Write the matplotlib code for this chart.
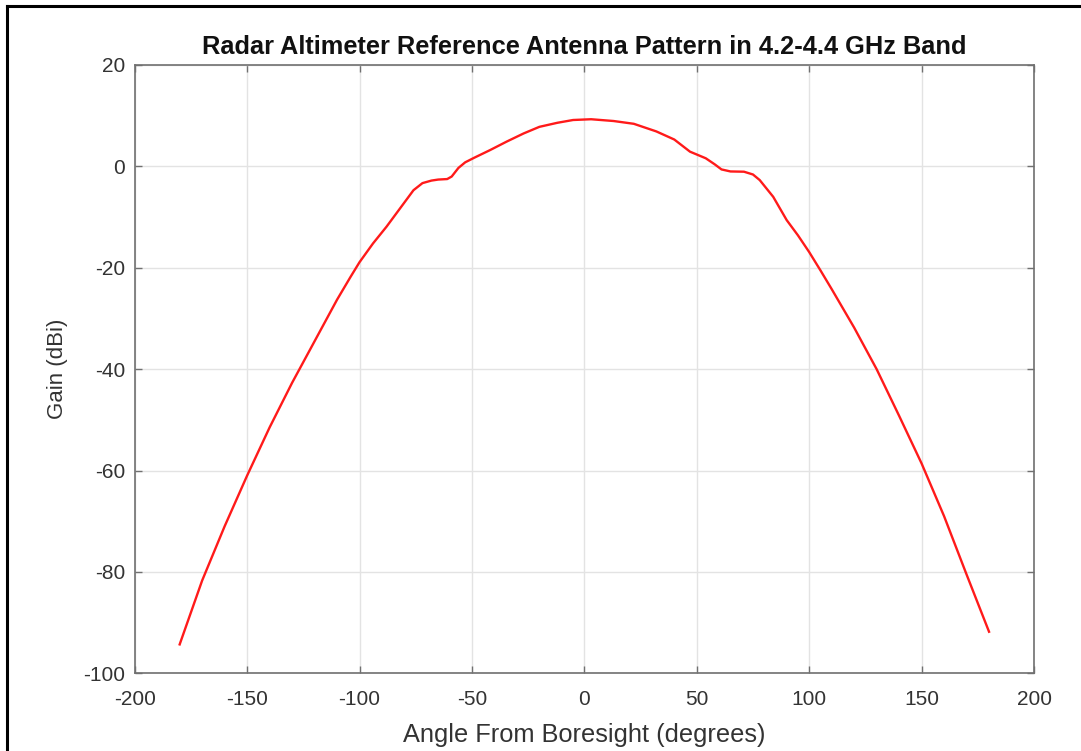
import matplotlib
matplotlib.use("Agg")
import matplotlib.pyplot as plt
from matplotlib.lines import Line2D

plt.rcParams['font.family'] = ['Liberation Sans', 'DejaVu Sans']
plt.rcParams['axes.unicode_minus'] = False

# angle (deg) vs gain (dBi)
angle = [-180, -170, -160, -150, -140, -130, -120, -110, -104, -100, -94, -88, -82,
         -76, -72, -68, -65, -61, -59, -56, -53, -49, -42, -34.5, -27, -20, -12, -5,
         3, 13, 22, 32, 40, 47, 54, 58, 61, 65, 71, 75, 78, 84, 90, 95, 100, 105,
         110, 120, 130, 140, 150, 160, 170, 180]
gain = [-94.3, -81.7, -71.0, -61.0, -51.5, -42.7, -34.5, -26.3, -21.8, -18.9, -15.2,
        -11.9, -8.3, -4.7, -3.3, -2.8, -2.6, -2.5, -2.0, -0.3, 0.8, 1.7, 3.2, 4.9,
        6.5, 7.8, 8.6, 9.15, 9.3, 8.95, 8.4, 6.9, 5.3, 2.9, 1.6, 0.4, -0.6, -1.0,
        -1.05, -1.6, -2.7, -6.0, -10.6, -13.6, -16.9, -20.5, -24.2, -31.8, -40.0,
        -49.2, -58.6, -69.0, -80.5, -91.8]

xticks = [-200, -150, -100, -50, 0, 50, 100, 150, 200]
yticks = [-100, -80, -60, -40, -20, 0, 20]

fig = plt.figure(figsize=(10.81, 7.51), dpi=100)
ax = fig.add_axes([134.7 / 1081, 1 - 673.3 / 751, (1034 - 134.7) / 1081, (673.3 - 65) / 751])

ax.plot(angle, gain, color="#ff1a1a", lw=1.7)

ax.set_xlim(-200, 200)
ax.set_ylim(-100, 20)
ax.set_xticks(xticks)
ax.set_yticks(yticks)
ax.grid(True, color="#e3e3e3", lw=1.0)
ax.set_axisbelow(True)
for s in ax.spines.values():
    s.set_color("#707070")
    s.set_linewidth(1.2)
ax.tick_params(direction="in", length=5, width=1, colors="#707070",
               top=True, right=True, labelsize=15, labelcolor="#333333")
ax.tick_params(axis="x", pad=12)
ax.tick_params(axis="y", pad=7)

ax.set_title("Radar Altimeter Reference Antenna Pattern in 4.2-4.4 GHz Band",
             fontsize=18.3, fontweight="bold", color="#111111", pad=8)
ax.set_xlabel("Angle From Boresight (degrees)", fontsize=18.3, color="#333333", va="center")
ax.set_ylabel("Gain (dBi)", fontsize=16, color="#333333", va="center")
ax.xaxis.set_label_coords(0.5, -(735 - 673.3) / 608.3)
ax.yaxis.set_label_coords((58 - 134.7) / 899.3, 0.5)

# black frame on the left and top edges of the picture
fig.add_artist(Line2D([7 / 1081, 7 / 1081], [0, 1 - 6 / 751], color="black", lw=2.2))
fig.add_artist(Line2D([7 / 1081, 1], [1 - 6 / 751, 1 - 6 / 751], color="black", lw=2.2))

fig.savefig("out.png", dpi=100)
